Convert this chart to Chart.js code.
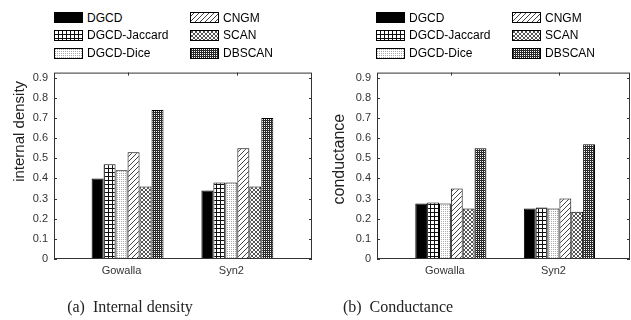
<!DOCTYPE html>
<html lang="en">
<head>
  <meta charset="UTF-8" />
  <title>Internal density and conductance</title>
  <script src="https://cdn.jsdelivr.net/npm/chart.js"></script>
  <style>
    body {
      margin: 0;
      background: #fff;
      width: 631px;
      height: 320px;
      position: relative;
      overflow: hidden;
      font-family: "Liberation Sans", Arial, sans-serif;
    }
    .box { position: absolute; top: 60px; height: 226px; }
    .legend-item {
      position: absolute;
      height: 18px;
      display: flex;
      align-items: center;
      font-size: 12px;
      color: #000;
      white-space: nowrap;
    }
    .legend-item canvas { margin-right: 4px; }
    .caption {
      position: absolute;
      top: 298px;
      width: 200px;
      text-align: center;
      font-family: "Liberation Serif", "DejaVu Serif", serif;
      font-size: 16px;
      color: #222;
    }
  </style>
</head>
<body>
  <div id="legendA"></div>
  <div id="legendB"></div>
  <div class="box" style="left:0; width:320px;"><canvas id="densityChart"></canvas></div>
  <div class="box" style="left:318px; width:313px;"><canvas id="conductanceChart"></canvas></div>
  <div class="caption" style="left:30px;">(a)&nbsp; Internal density</div>
  <div class="caption" style="left:298px;">(b)&nbsp; Conductance</div>

  <script>
    const categories = ["Gowalla", "Syn2"];
    const methods = ["DGCD", "DGCD-Jaccard", "DGCD-Dice", "CNGM", "SCAN", "DBSCAN"];
    const fills = ["solid", "grid", "dots", "hatch", "cross", "dense"];
    const yTicks = [0, 0.1, 0.2, 0.3, 0.4, 0.5, 0.6, 0.7, 0.8, 0.9];

    // values per method, in the order of `methods`
    const densityGowalla = [0.40, 0.47, 0.44, 0.53, 0.36, 0.74];
    const densitySyn2 = [0.34, 0.38, 0.38, 0.55, 0.36, 0.70];
    const conductanceGowalla = [0.275, 0.28, 0.275, 0.35, 0.25, 0.55];
    const conductanceSyn2 = [0.25, 0.255, 0.25, 0.30, 0.235, 0.57];

    const FONT = "'Liberation Sans', Arial, sans-serif";

    function makePattern(kind) {
      if (kind === "solid") return "#000";
      const c = document.createElement("canvas");
      const size = { grid: 4, dots: 2, hatch: 5, cross: 4, dense: 2 }[kind];
      c.width = size; c.height = size;
      const g = c.getContext("2d");
      g.fillStyle = "#fff";
      g.fillRect(0, 0, size, size);
      const px = (x, y, col) => { g.fillStyle = col; g.fillRect(x, y, 1, 1); };
      if (kind === "grid") {
        g.fillStyle = "#111";
        g.fillRect(0, 0, 1, 4);
        g.fillRect(0, 0, 4, 1);
      } else if (kind === "dots") {
        px(1, 1, "#aaa");
      } else if (kind === "hatch") {
        for (let i = 0; i < 5; i++) px(4 - i, i, "#444");
      } else if (kind === "cross") {
        for (let i = 0; i < 4; i++) { px(i, i, "#555"); px(3 - i, i, "#555"); }
      } else if (kind === "dense") {
        px(0, 0, "#222"); px(1, 1, "#222"); px(1, 0, "#333");
      }
      return g.createPattern(c, "repeat");
    }

    const patterns = fills.map(makePattern);

    // legends (two columns, three rows)
    function buildLegend(id, left) {
      const host = document.getElementById(id);
      methods.forEach((name, i) => {
        const col = Math.floor(i / 3), row = i % 3;
        const item = document.createElement("div");
        item.className = "legend-item";
        item.style.left = (left + col * 136) + "px";
        item.style.top = (8.5 + row * 17.75) + "px";
        const sw = document.createElement("canvas");
        sw.width = 29; sw.height = 11;
        const g = sw.getContext("2d");
        g.fillStyle = patterns[i];
        g.fillRect(0, 0, 29, 11);
        g.strokeStyle = "#000";
        g.lineWidth = 1;
        g.strokeRect(0.5, 0.5, 28, 10);
        item.appendChild(sw);
        item.appendChild(document.createTextNode(name));
        host.appendChild(item);
      });
    }
    buildLegend("legendA", 54);
    buildLegend("legendB", 376);

    // box around the plot plus small inward ticks
    const frame = {
      id: "frame",
      afterDraw(chart) {
        const { ctx, chartArea: a, scales: { x, y } } = chart;
        ctx.save();
        ctx.strokeStyle = "#333";
        ctx.lineWidth = 1;
        ctx.strokeRect(a.left + 0.5, a.top + 0.5, a.right - a.left - 1, a.bottom - a.top - 1);
        ctx.beginPath();
        y.ticks.forEach(t => {
          const py = Math.round(y.getPixelForValue(t.value)) + 0.5;
          ctx.moveTo(a.left, py); ctx.lineTo(a.left + 3, py);
          ctx.moveTo(a.right, py); ctx.lineTo(a.right - 3, py);
        });
        x.ticks.forEach(t => {
          const px = Math.round(x.getPixelForValue(t.value)) + 0.5;
          ctx.moveTo(px, a.top); ctx.lineTo(px, a.top + 3);
        });
        ctx.stroke();
        ctx.restore();
      }
    };

    function makeChart(canvasId, gowalla, syn2, opts) {
      const datasets = methods.map((name, i) => ({
        label: name,
        data: [{ x: 1, y: gowalla[i] }, { x: 2, y: syn2[i] }],
        backgroundColor: patterns[i],
        borderColor: "#000",
        borderWidth: 1,
        categoryPercentage: 0.655,
        barPercentage: 1
      }));

      return new Chart(document.getElementById(canvasId), {
        type: "bar",
        data: { datasets },
        plugins: [frame],
        options: {
          responsive: true,
          maintainAspectRatio: false,
          animation: false,
          layout: { padding: { top: opts.top, right: opts.right, left: 0, bottom: 0 } },
          plugins: {
            legend: { display: false },
            tooltip: { enabled: false }
          },
          scales: {
            x: {
              type: "linear",
              offset: false,
              min: opts.xmin,
              max: opts.xmax,
              afterBuildTicks: s => { s.ticks = categories.map((_, i) => ({ value: i + 1 })); },
              afterFit: s => { s.height = 27; },
              grid: { display: false, offset: false, drawTicks: false },
              border: { display: false },
              ticks: {
                callback: (v, i) => categories[i],
                font: { family: FONT, size: 11 },
                color: "#333",
                padding: 5,
                labelOffset: -6,
                maxRotation: 0,
                autoSkip: false
              }
            },
            y: {
              min: 0,
              max: 0.925,
              afterBuildTicks: s => { s.ticks = yTicks.map(v => ({ value: v })); },
              afterFit: s => { s.width = opts.axisWidth; },
              grid: { display: false, drawTicks: false },
              border: { display: false },
              ticks: {
                callback: v => (v === 0 ? "0" : v.toFixed(1)),
                font: { family: FONT, size: 11 },
                color: "#333",
                padding: 6
              },
              title: {
                display: true,
                text: opts.title,
                align: opts.titleAlign,
                font: { family: FONT, size: opts.titleSize },
                color: "#222",
                padding: { top: opts.titlePad, bottom: 0 }
              }
            }
          }
        }
      });
    }

    makeChart("densityChart", densityGowalla, densitySyn2, {
      top: 12, right: 8, xmin: 0.33, xmax: 2.68, axisWidth: 54,
      title: "internal density  ", titleAlign: "end", titleSize: 15, titlePad: 11
    });

    makeChart("conductanceChart", conductanceGowalla, conductanceSyn2, {
      top: 12, right: 1, xmin: 0.32, xmax: 2.65, axisWidth: 59,
      title: "   conductance", titleAlign: "center", titleSize: 16, titlePad: 12
    });
  </script>
</body>
</html>
